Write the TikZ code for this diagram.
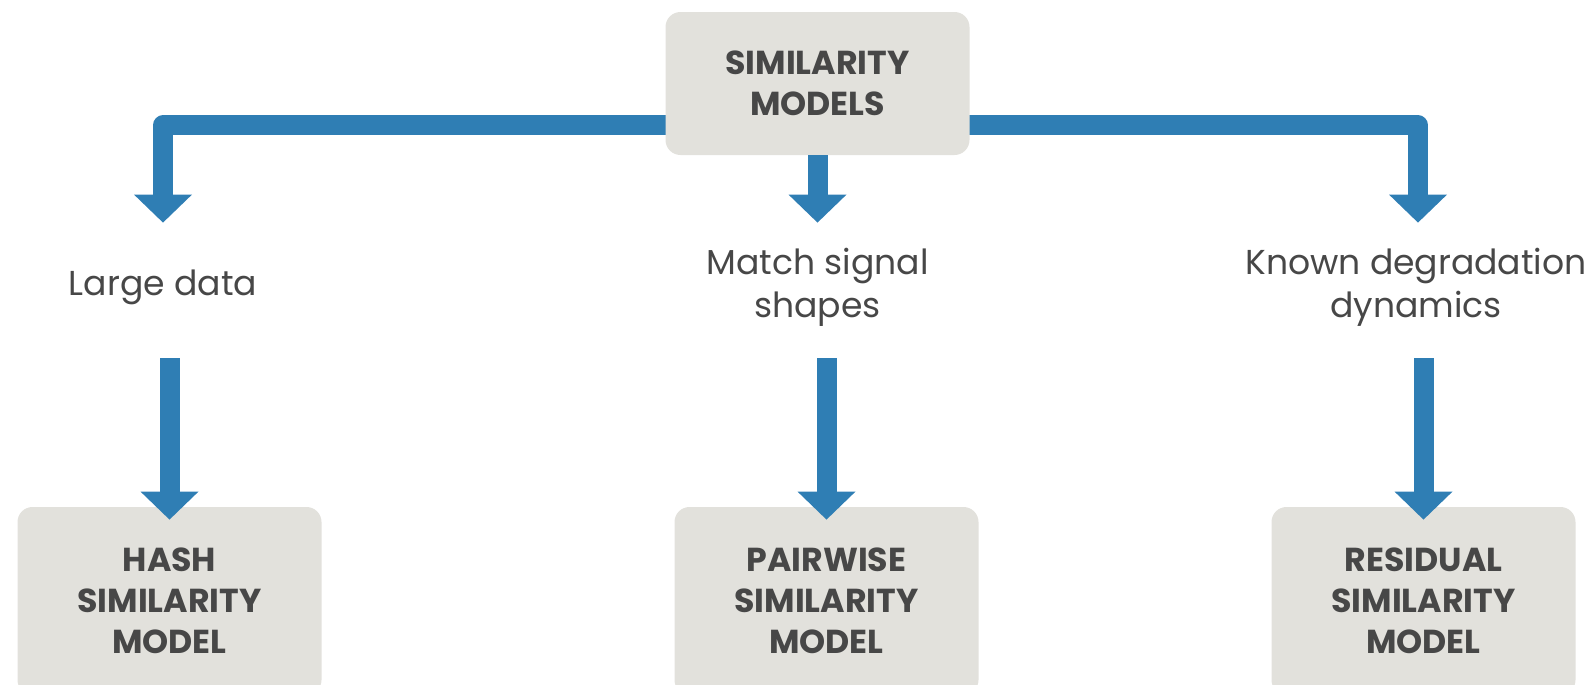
\documentclass[tikz,border=0pt]{standalone}
\usepackage{fontspec}
\setmainfont{Poppins}
\usepackage{xcolor}
\usetikzlibrary{arrows.meta,positioning,backgrounds}

\definecolor{flowblue}{HTML}{2F7EB4}
\definecolor{boxgray}{HTML}{E2E1DC}
\definecolor{inkgray}{HTML}{474747}

\begin{document}
\begin{tikzpicture}[
		x=0.5pt, y=-0.5pt,
		model/.style={
			rectangle,
			fill=boxgray,
			rounded corners=7.5pt,
			align=center,
			text=inkgray,
			font=\fontsize{16.6}{20.5}\selectfont\bfseries,
			minimum width=152pt,
			inner sep=0pt
		},
		cue/.style={
			align=center,
			text=inkgray,
			font=\fontsize{17.3}{21.5}\selectfont,
			minimum height=45pt,
			inner sep=0pt
		},
		arrow/.style={-{Triangle[width=29pt,length=14pt,line width=0pt]}, draw=flowblue, line width=10pt, line join=round}
		]
		\clip (0,0) rectangle (1592,685);
		\node[model, minimum height=71.5pt] (top) at (817.5,83.5) {SIMILARITY\\MODELS};
		\node[cue] (large) at (163,287) {Large data};
		\node[cue] (match) at (817.5,287) {Match signal\\shapes};
		\node[cue] (known) at (1416,287) {Known degradation\\dynamics};
		\node[model, minimum height=94pt] (hash) at (169.5,601) {HASH\\SIMILARITY\\MODEL};
		\node[model, minimum height=94pt] (pair) at (826.5,601) {PAIRWISE\\SIMILARITY\\MODEL};
		\node[model, minimum height=94pt] (resid) at (1423.5,601) {RESIDUAL\\SIMILARITY\\MODEL};
		
		\begin{scope}[on background layer]
			\draw[arrow, shorten >=9.5pt] ([yshift=15pt]top.south) -| (large.north);
			\draw[arrow, shorten >=9.5pt] ([yshift=15pt]top.south) -| ([xshift=1pt]known.north);
		\end{scope}
		\draw[arrow, shorten >=9.5pt] (top.south) -- (match.north);
		
		\draw[arrow, shorten <=13pt, shorten >=-6.5pt] (large.south -| hash.north) -- (hash.north);
		\draw[arrow, shorten <=13pt, shorten >=-6.5pt] (match.south -| pair.north) -- (pair.north);
		\draw[arrow, shorten <=13pt, shorten >=-6.5pt] (known.south -| resid.north) -- (resid.north);
	\end{tikzpicture}
\end{document}
